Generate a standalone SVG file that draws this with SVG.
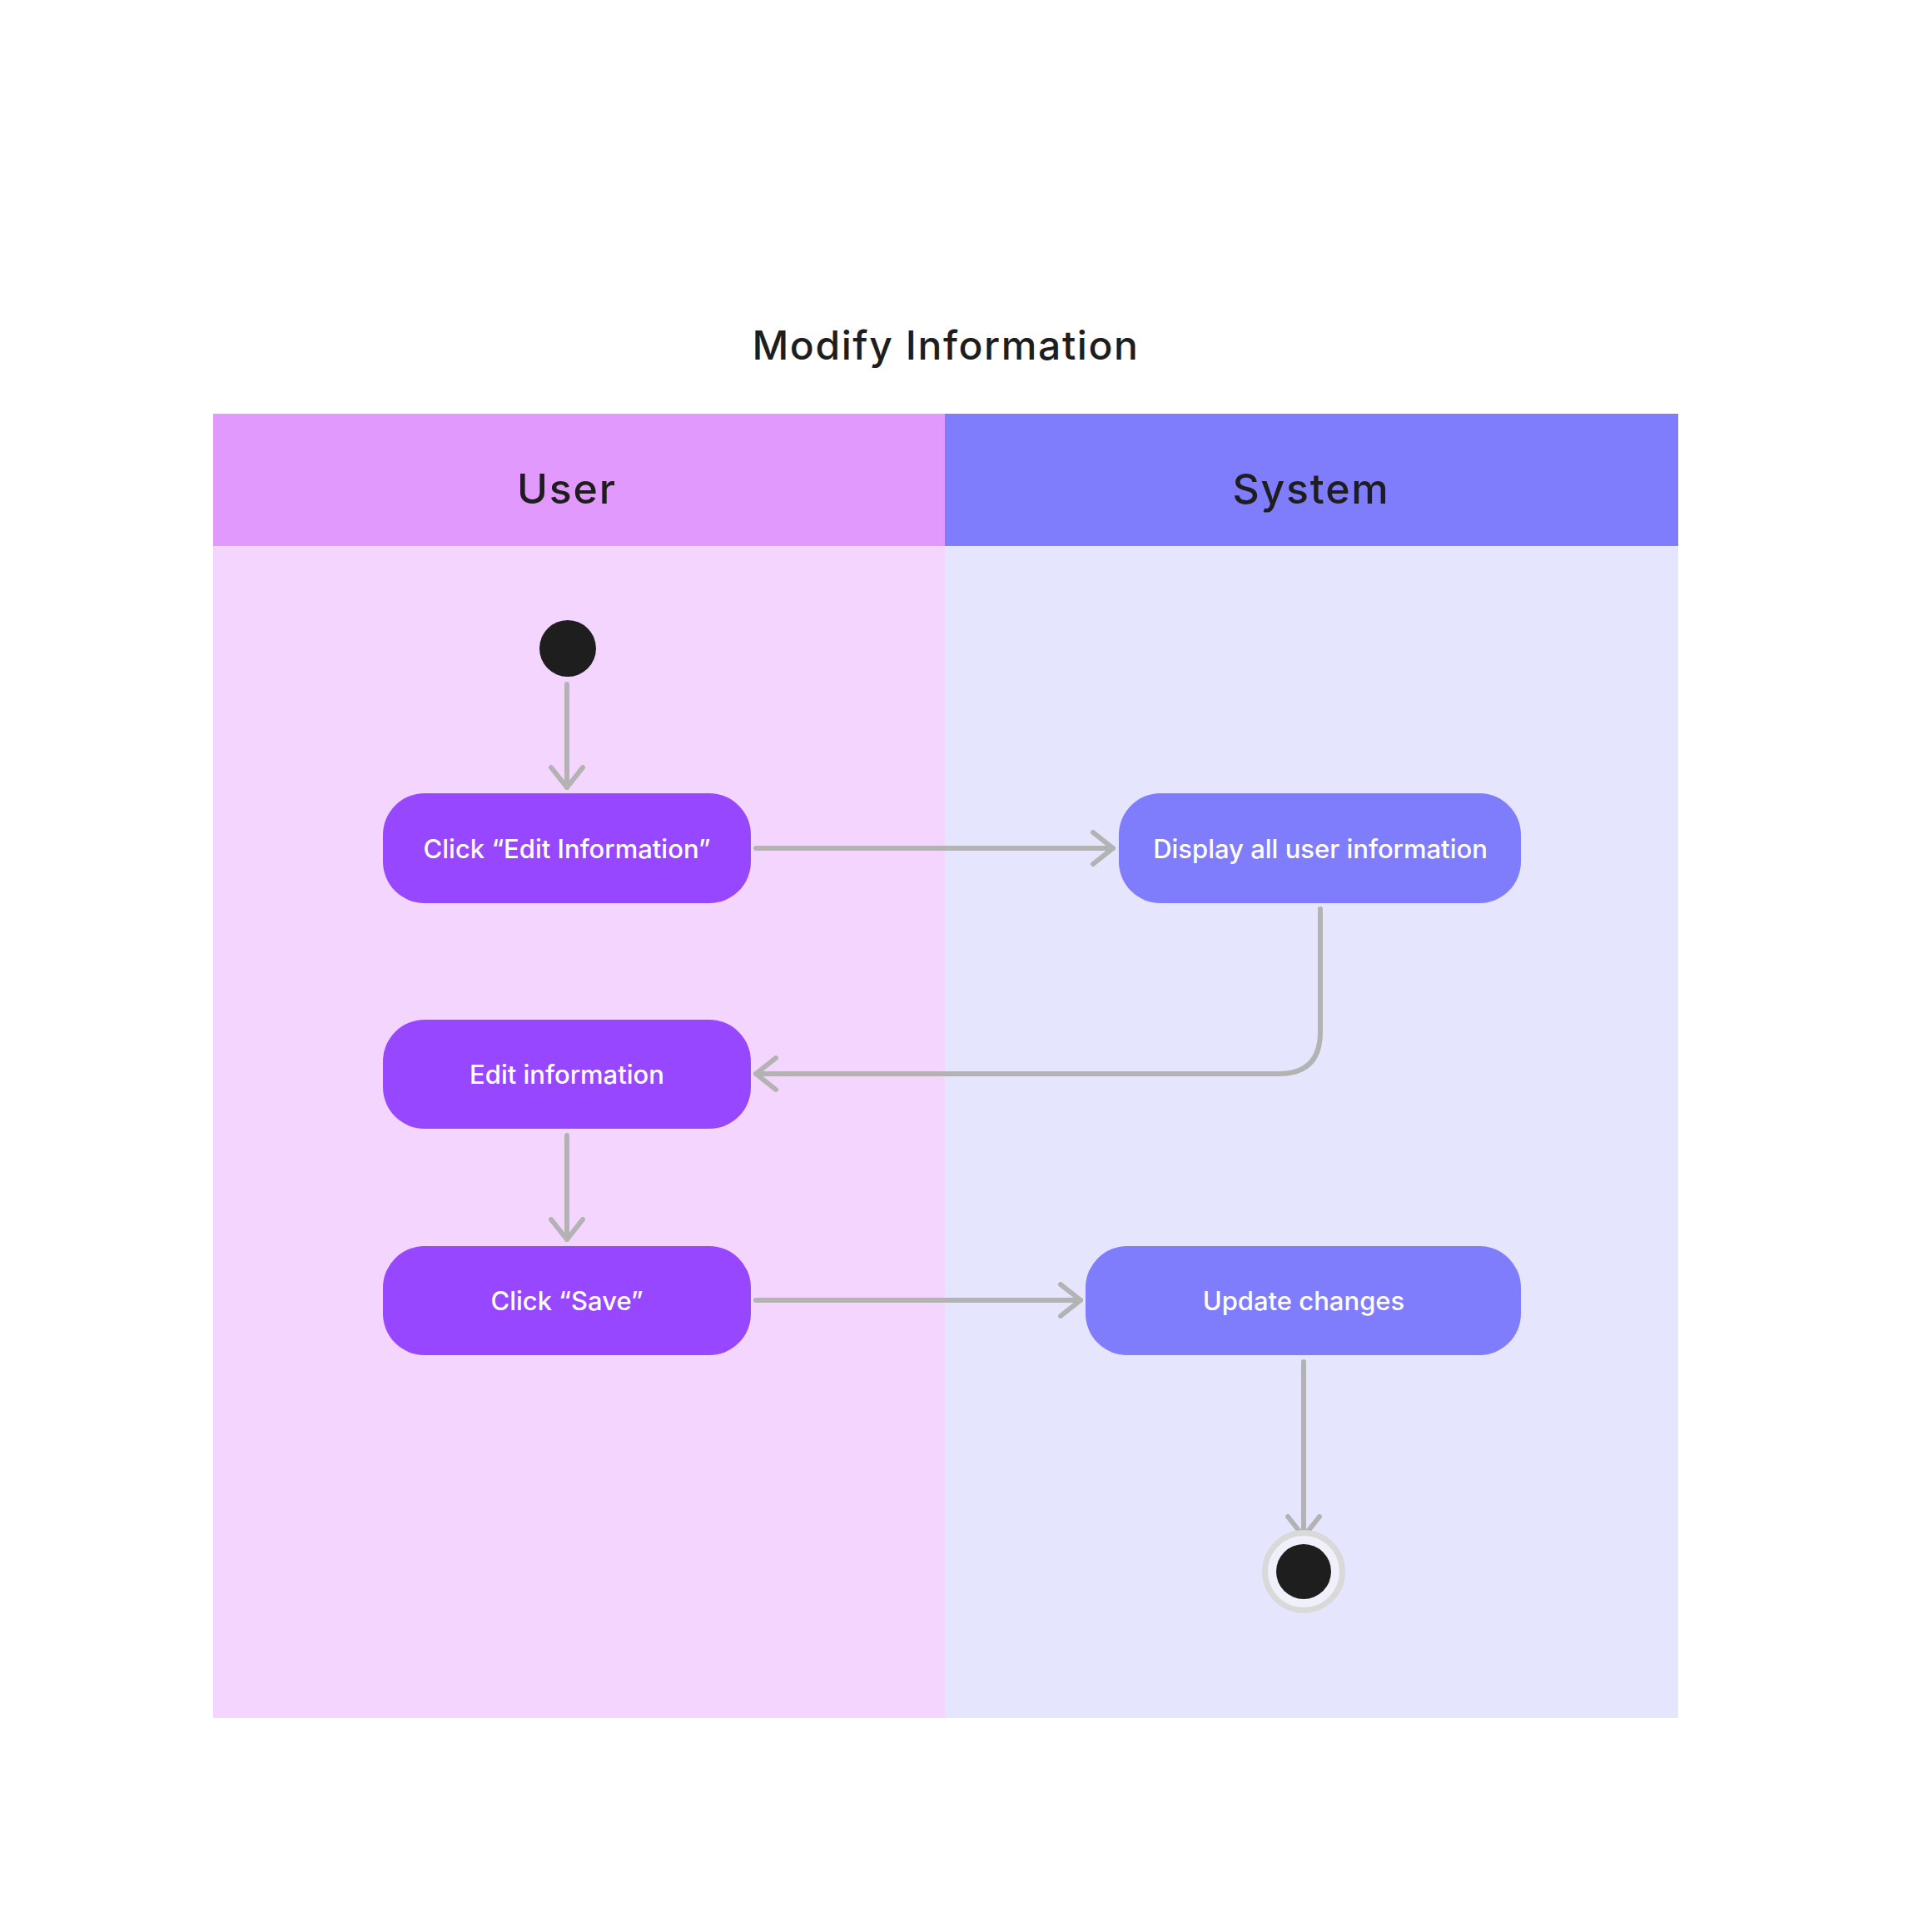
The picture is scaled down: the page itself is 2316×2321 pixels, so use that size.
<svg xmlns="http://www.w3.org/2000/svg" width="2316" height="2321" viewBox="0 0 2316 2321">
  <defs>
    <style>
      .title { font-family: Inter, "Liberation Sans", sans-serif; font-size: 48px; font-weight: 450; fill: #1e1e1e; text-anchor: middle; letter-spacing: 1.6px; }
      .lane-label { font-family: Inter, "Liberation Sans", sans-serif; font-size: 50px; font-weight: 450; fill: #1e1e1e; text-anchor: middle; letter-spacing: 1.8px; }
      .label { font-family: Inter, "Liberation Sans", sans-serif; font-size: 31px; font-weight: 500; fill: #ffffff; text-anchor: middle; }
      .user-node { fill: #9747ff; }
      .sys-node { fill: #7f7dfc; }
      .edge { fill: none; stroke: #b3b3b3; stroke-width: 6; stroke-linecap: round; stroke-linejoin: round; }
    </style>
    <marker id="arrow" viewBox="0 0 30 44" refX="27" refY="22" markerWidth="30" markerHeight="44" markerUnits="userSpaceOnUse" orient="auto">
      <path d="M3,3 L27,22 L3,41" fill="none" stroke="#b3b3b3" stroke-width="6" stroke-linecap="round" stroke-linejoin="round"/>
    </marker>
  </defs>

  <rect width="2316" height="2321" fill="#ffffff"/>

  <text class="title" x="1136" y="432">Modify Information</text>

  <!-- swimlanes -->
  <g id="lane-user">
    <rect x="256" y="656" width="879" height="1408" fill="#f3d5fd"/>
    <rect x="256" y="497" width="879" height="159" fill="#e299fd"/>
    <text class="lane-label" x="681" y="605">User</text>
  </g>
  <g id="lane-system">
    <rect x="1135" y="656" width="881" height="1408" fill="#e6e5fe"/>
    <rect x="1135" y="497" width="881" height="159" fill="#7f7dfc"/>
    <text class="lane-label" x="1575" y="605">System</text>
  </g>

  <!-- connectors -->
  <g id="connectors">
    <path class="edge" d="M681,822 L681,946" marker-end="url(#arrow)"/>
    <path class="edge" d="M908,1019 L1337,1019" marker-end="url(#arrow)"/>
    <path class="edge" d="M1586,1092 L1586,1240 Q1586,1290 1536,1290 L908,1290" marker-end="url(#arrow)"/>
    <path class="edge" d="M681,1364 L681,1489" marker-end="url(#arrow)"/>
    <path class="edge" d="M908,1562 L1298,1562" marker-end="url(#arrow)"/>
    <path class="edge" d="M1566,1636 L1566,1846" marker-end="url(#arrow)"/>
  </g>

  <!-- nodes -->
  <g id="start">
    <circle cx="682" cy="779" r="34" fill="#1e1e1e"/>
  </g>
  <g id="click-edit">
    <rect class="user-node" x="460" y="953" width="442" height="132" rx="50"/>
    <text class="label" x="681" y="1031">Click “Edit Information”</text>
  </g>
  <g id="display-info">
    <rect class="sys-node" x="1344" y="953" width="483" height="132" rx="50"/>
    <text class="label" x="1586" y="1031">Display all user information</text>
  </g>
  <g id="edit-info">
    <rect class="user-node" x="460" y="1225" width="442" height="131" rx="50"/>
    <text class="label" x="681" y="1302">Edit information</text>
  </g>
  <g id="click-save">
    <rect class="user-node" x="460" y="1497" width="442" height="131" rx="50"/>
    <text class="label" x="681" y="1574">Click “Save”</text>
  </g>
  <g id="update-changes">
    <rect class="sys-node" x="1304" y="1497" width="523" height="131" rx="50"/>
    <text class="label" x="1566" y="1574">Update changes</text>
  </g>
  <g id="end">
    <circle cx="1566" cy="1888" r="46.5" fill="#f0f0fb" stroke="#d9d9d9" stroke-width="7"/>
    <circle cx="1566" cy="1888" r="33" fill="#1e1e1e"/>
  </g>
</svg>
